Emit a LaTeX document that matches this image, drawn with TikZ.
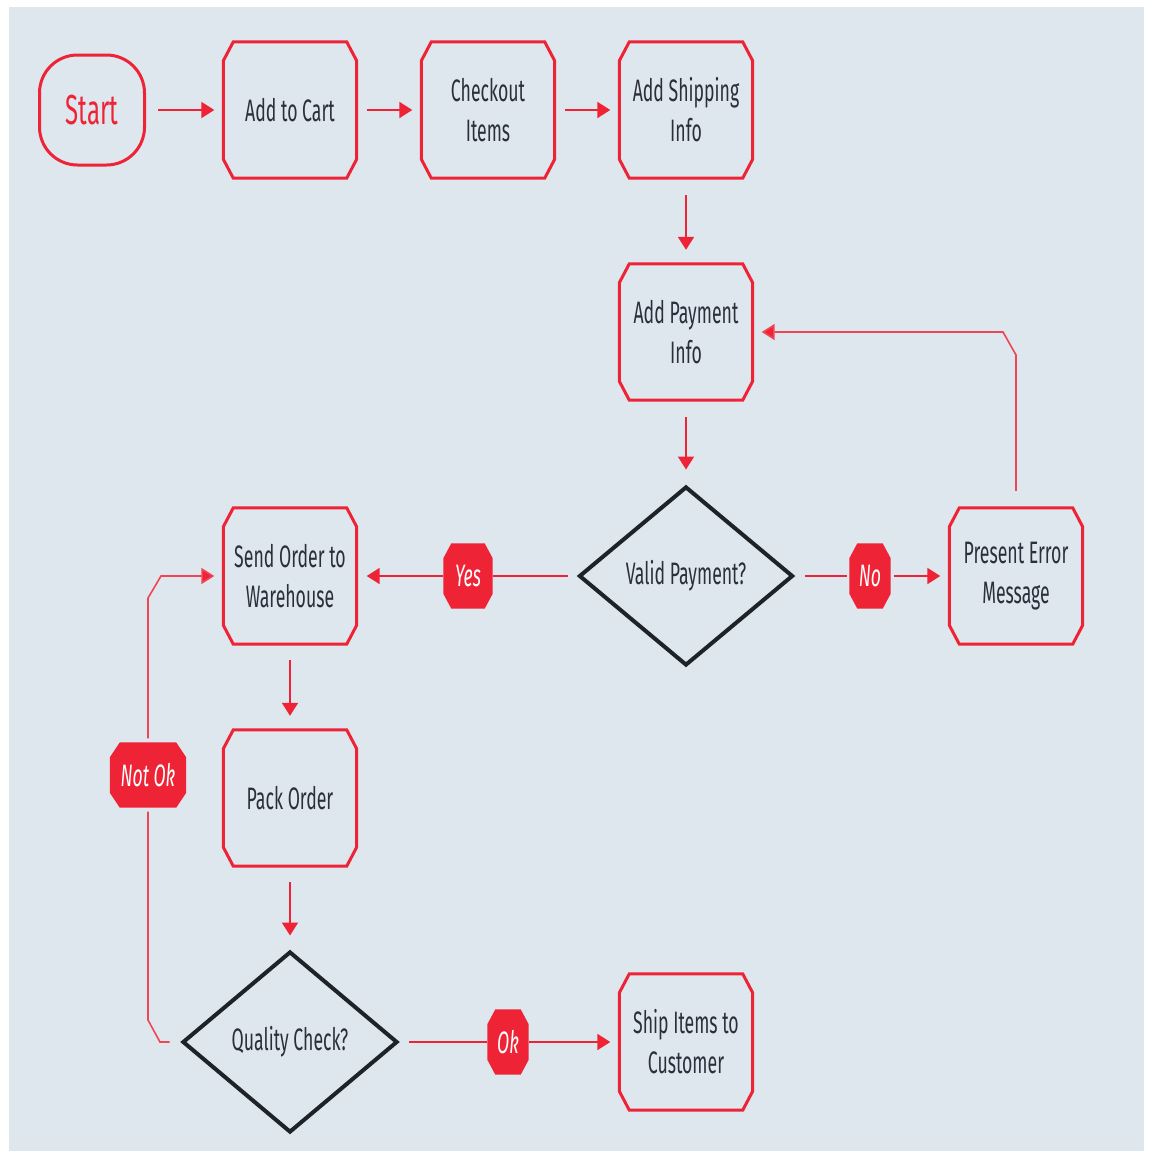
\documentclass[tikz,border=0pt]{standalone}
\usepackage{fontspec}
\setmainfont{Fira Sans}[FakeStretch=0.57]
\usetikzlibrary{arrows.meta,calc,shapes.geometric}
\definecolor{bg}{HTML}{DEE6EE}
\definecolor{myred}{HTML}{EE2436}
\definecolor{ink}{HTML}{2B2F3B}
\definecolor{dia}{HTML}{1E2328}
\newcommand\octopath[3]{% node, chamfer x, chamfer y
  ($(#1.north west)+(#2,0)$) -- ($(#1.north east)+(-#2,0)$) --
  ($(#1.north east)+(0,#3)$) -- ($(#1.south east)+(0,-#3)$) --
  ($(#1.south east)+(-#2,0)$) -- ($(#1.south west)+(#2,0)$) --
  ($(#1.south west)+(0,-#3)$) -- ($(#1.north west)+(0,#3)$) -- cycle}
\tikzset{
  boxnode/.style={minimum width=133pt, minimum height=136pt, inner sep=0pt,
    align=center, text=ink, font=\fontsize{31}{40}\selectfont},
  boxline/.style={draw=myred, line width=3pt, line join=miter},
  labnode/.style={minimum height=65pt, inner sep=0pt, text=white,
    font=\fontsize{31}{40}\selectfont\itshape},
  labfill/.style={fill=myred},
  dianode/.style={shape=diamond, draw=dia, line width=4pt, inner sep=0pt,
    text=ink, font=\fontsize{31}{40}\selectfont},
  conn/.style={draw=myred, line width=2pt, -{Triangle[length=13pt,width=16pt]}},
  plainconn/.style={draw=myred, line width=2pt},
  loopline/.style={draw=myred!85, line width=1.6pt},
  looparrow/.style={draw=myred!85, line width=1.6pt, -{Triangle[length=13pt,width=16pt,fill=myred]}},
}
\begin{document}
\begin{tikzpicture}[x=1pt,y=-1pt]
\useasboundingbox (0,0) rectangle (1151,1151);
\fill[white] (0,0) rectangle (1151,1151);
\fill[bg] (9,7) rectangle (1144,1151);

% start
\node[draw=myred, line width=3pt, rounded corners=38pt, minimum width=105pt,
  minimum height=110pt, inner sep=0pt, text=myred,
  font=\fontsize{42}{42}\selectfont] (start) at (92,110) {Start};

% boxes
\node[boxnode] (cart) at (290,110) {Add to Cart};
\node[boxnode] (chk)  at (488,110) {Checkout\\Items};
\node[boxnode] (ship) at (686,110) {Add Shipping\\Info};
\node[boxnode] (pay)  at (686,332) {Add Payment\\Info};
\node[boxnode] (pe)   at (1016,576) {Present Error\\Message};
\node[boxnode] (send) at (290,576) {Send Order to\\Warehouse};
\node[boxnode] (pack) at (290,798) {Pack Order};
\node[boxnode] (cust) at (686,1042) {Ship Items to\\Customer};
\foreach \n in {cart,chk,ship,pay,pe,send,pack,cust}
  \draw[boxline] \octopath{\n}{10}{19};

% diamonds
\node[dianode, minimum width=214pt, minimum height=179pt] (vp) at (686,576) {Valid Payment?};
\node[dianode, minimum width=215pt, minimum height=181pt] (qc) at (290,1042) {Quality Check?};

% labels
\node[labnode, minimum width=49pt] (yes) at (468,576) {};
\node[labnode, minimum width=41pt] (no)  at (870,576) {};
\node[labnode, minimum width=76pt] (notok) at (148,775) {};
\node[labnode, minimum width=41pt] (ok)  at (508,1042) {};
\fill[labfill] \octopath{yes}{8}{15};
\fill[labfill] \octopath{no}{8}{15};
\fill[labfill] \octopath{notok}{10}{15};
\fill[labfill] \octopath{ok}{8}{15};
\node[labnode] at (yes) {Yes};
\node[labnode] at (no) {No};
\node[labnode] at (notok) {Not Ok};
\node[labnode] at (ok) {Ok};

% connectors
\draw[conn, shorten <=12pt, shorten >=9pt] (start) -- (cart);
\draw[conn, shorten <=10pt, shorten >=9pt] (cart) -- (chk);
\draw[conn, shorten <=10pt, shorten >=9pt] (chk) -- (ship);
\draw[conn, shorten <=17pt, shorten >=14pt] (ship) -- (pay);
\draw[conn, shorten <=17pt, shorten >=15pt] (pay) -- (vp);
\draw[plainconn, shorten <=9pt] (vp.west) -- (yes.east);
\draw[conn, shorten >=10pt] (yes.west) -- (send.east);
\draw[plainconn, shorten <=10pt, shorten >=2pt] (vp.east) -- (no.west);
\draw[conn, shorten <=3pt, shorten >=9pt] (no.east) -- (pe.west);
\draw[conn, shorten <=16pt, shorten >=14pt] (send) -- (pack);
\draw[conn, shorten <=16pt, shorten >=14pt] (pack) -- (qc);
\draw[plainconn, shorten <=9pt] (qc.east) -- (ok.west);
\draw[conn, shorten >=9pt] (ok.east) -- (cust.west);

% loops
\draw[looparrow] ($(pe.north)+(0,-17)$) -- ($(pe.north |- pay.east)+(0,23)$)
  -- ($(pe.north |- pay.east)+(-13,0)$) -- ($(pay.east)+(9,0)$);
\draw[loopline] ($(qc.west)+(-11,0)$) -- ($(notok |- qc.west)+(12,0)$)
  -- ($(notok |- qc.west)+(0,-22)$) -- ($(notok.south)+(0,4)$);
\draw[looparrow] ($(notok.north)+(0,-4)$) -- ($(notok |- send.west)+(0,22)$)
  -- ($(notok |- send.west)+(13,0)$) -- ($(send.west)+(-9,0)$);
\end{tikzpicture}
\end{document}
